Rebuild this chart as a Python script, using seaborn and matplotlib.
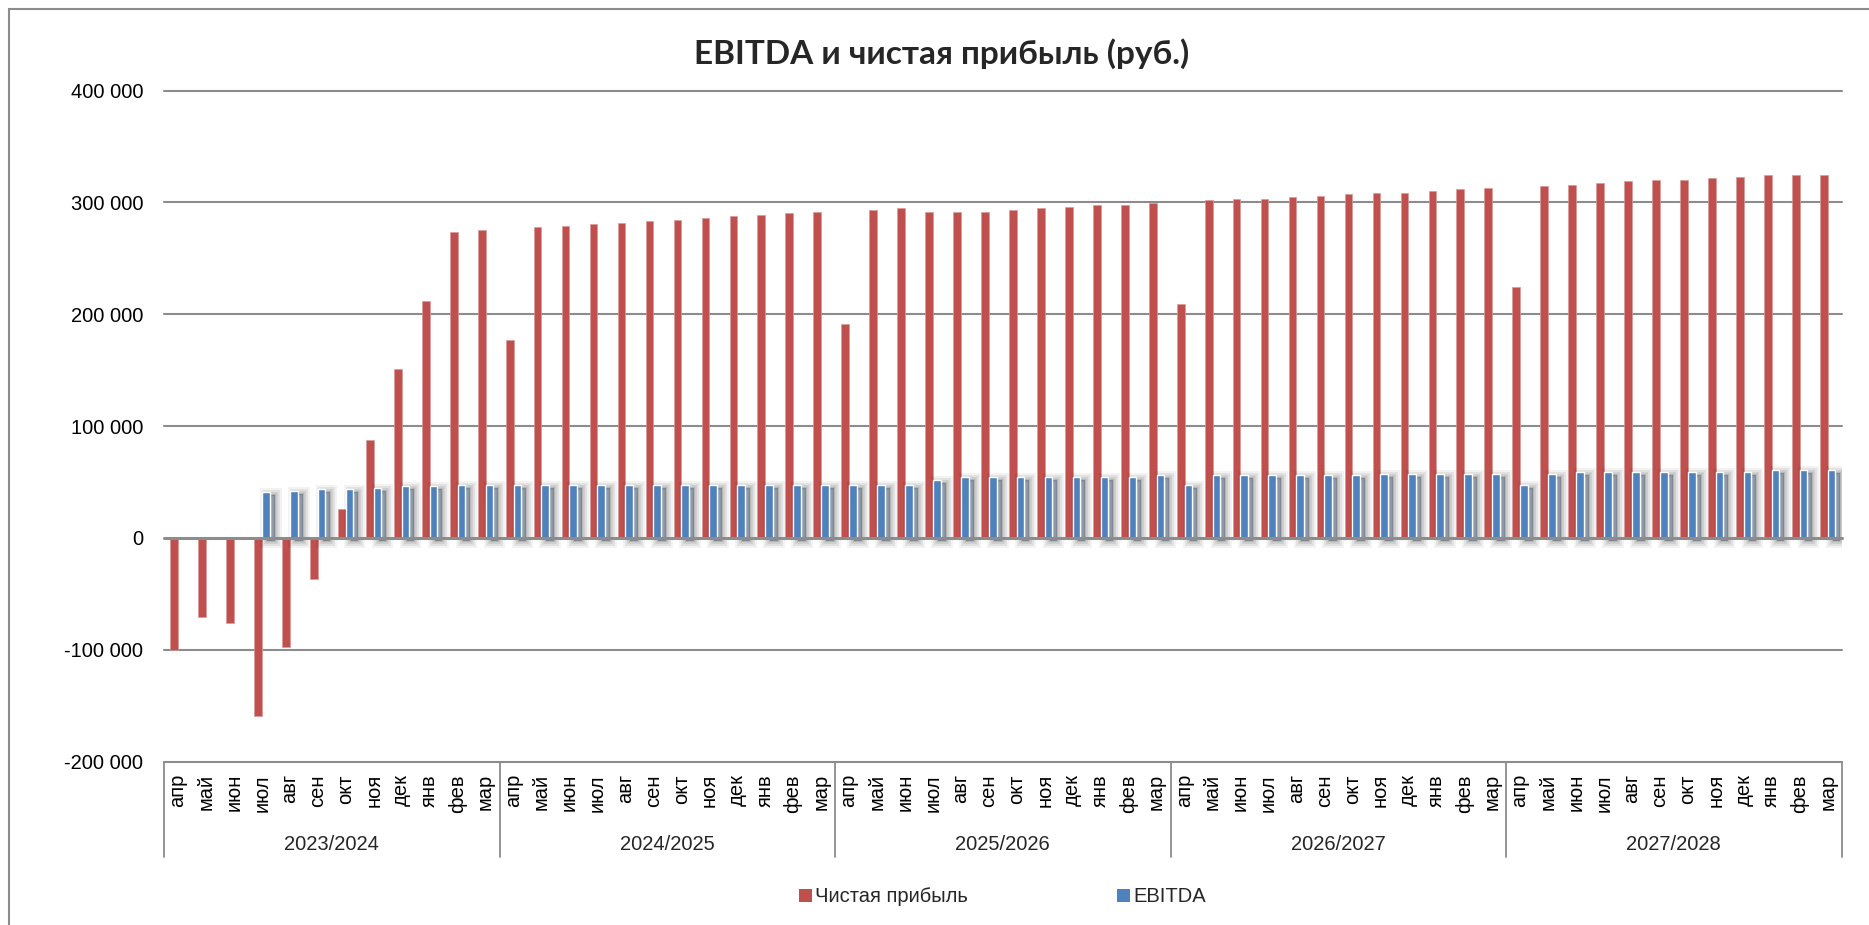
import numpy as np
import pandas as pd
import seaborn as sns
import matplotlib
matplotlib.use("Agg")
import matplotlib.pyplot as plt
import matplotlib.patheffects as pe
from matplotlib.patches import Patch, Rectangle
from matplotlib.ticker import FuncFormatter

# ---- data -------------------------------------------------------------
years = ["2023/2024", "2024/2025", "2025/2026", "2026/2027", "2027/2028"]
months = ["апр", "май", "июн", "июл", "авг", "сен",
          "окт", "ноя", "дек", "янв", "фев", "мар"]

net_profit = [
    -100500, -70700, -76000, -159000, -97600, -36500,
    26300, 88000, 150700, 212100, 273800, 275300,
    176600, 277700, 279200, 280600, 282000, 283400,
    284700, 286100, 287600, 289100, 290300, 291800,
    191700, 293300, 294800, 291800, 291800, 291800,
    293300, 294800, 296300, 297800, 297800, 299300,
    208900, 301900, 303400, 303400, 304900, 306100,
    307600, 308800, 308800, 310300, 311800, 313300,
    224700, 314800, 315900, 317400, 318900, 320400,
    320400, 321900, 323100, 324600, 324600, 324600,
]

ebitda = [
    0, 0, 0, 40700, 42200, 43400,
    43400, 44900, 46400, 46400, 47600, 47600,
    47600, 47600, 47600, 47600, 47600, 47600,
    47600, 47600, 47600, 47600, 47600, 47600,
    47600, 47600, 47600, 51900, 54500, 54500,
    54500, 54500, 54500, 54500, 54500, 56000,
    47600, 56000, 56000, 56000, 56000, 56000,
    56000, 57500, 57500, 57500, 57500, 57500,
    47600, 57500, 59000, 59000, 59000, 59000,
    59000, 59000, 59000, 60500, 60500, 60500,
]

series_names = ["Чистая прибыль", "EBITDA"]
series_colors = ["#C0504D", "#4F81BD"]
y_ticks = [-200000, -100000, 0, 100000, 200000, 300000, 400000]

# ---- long table for seaborn ------------------------------------------
keys = [f"{y} {m}" for y in years for m in months]
month_labels = [m for _ in years for m in months]
df = pd.DataFrame({
    "key": keys * 2,
    "value": net_profit + ebitda,
    "series": [series_names[0]] * len(keys) + [series_names[1]] * len(keys),
})

# ---- style ------------------------------------------------------------
sns.set_style("white")
plt.rcParams["font.family"] = ["Liberation Sans", "DejaVu Sans"]
FS = 14.5
GRID = "#8c8c8c"

fig = plt.figure(figsize=(18.69, 9.25), dpi=100)
ax = fig.add_axes([0.08775, 0.17665, 0.8976, 0.7254])

sns.barplot(
    data=df, x="key", y="value", hue="series",
    order=keys, hue_order=series_names, palette=series_colors,
    width=0.55, saturation=1, legend=False, ax=ax, zorder=2,
)

# soft drop shadow behind the EBITDA bars
off = (3.6, -2.2)
shadow = [
    pe.Stroke(offset=off, linewidth=10, foreground="#000000", alpha=0.05),
    pe.Stroke(offset=off, linewidth=7, foreground="#000000", alpha=0.07),
    pe.Stroke(offset=off, linewidth=4, foreground="#000000", alpha=0.09),
    pe.Stroke(offset=off, linewidth=1.5, foreground="#000000", alpha=0.1),
    pe.SimplePatchShadow(offset=off, shadow_rgbFace="#000000", alpha=0.14),
    pe.Normal(),
]
for bar in ax.containers[1]:
    if bar.get_height() > 0:
        bar.set_path_effects(shadow)

# light rim on the profit bars
for bar in ax.containers[0]:
    bar.set_edgecolor("#d99a98")
    bar.set_linewidth(0.5)

ax.set_xlim(-0.5, len(keys) - 0.5)
ax.set_ylim(-200000, 400000)
ax.set_yticks(y_ticks)
ax.yaxis.set_major_formatter(
    FuncFormatter(lambda v, _: f"{int(v):,}".replace(",", " ")))
ax.set_xticks(range(len(keys)))
ax.set_xticklabels(month_labels, rotation=90, va="top", ha="center")
ax.tick_params(axis="x", length=0, pad=9, labelsize=FS, colors="black")
ax.tick_params(axis="y", length=0, pad=15, labelsize=FS, colors="black")
ax.set_xlabel("")
ax.set_ylabel("")
for s in ax.spines.values():
    s.set_visible(False)

# horizontal gridlines and emphasised zero line
for v in y_ticks:
    ax.axhline(v, color=GRID, lw=1.5 if v != 0 else 2.2,
               zorder=1 if v != 0 else 3, clip_on=False)

# two-level category frame: year separators and year captions
n = len(months)
for g in range(len(years) + 1):
    ax.plot([g * n - 0.5] * 2, [0, -0.1416], color=GRID, lw=1.3,
            transform=ax.get_xaxis_transform(), clip_on=False)
for g, yr in enumerate(years):
    ax.text(g * n + (n - 1) / 2, -0.124, yr, ha="center", va="center",
            fontsize=FS, transform=ax.get_xaxis_transform())

# title
fig.text(942 / 1869, 1 - 54 / 925, "EBITDA и чистая прибыль (руб.)",
         ha="center", va="center", fontsize=24, fontweight="bold",
         family=["Lato", "DejaVu Sans"])

# legend
handles = [Patch(facecolor=c, edgecolor="none") for c in series_colors]
fig.legend(handles, series_names, loc="center",
           bbox_to_anchor=(0.5364, 0.0303), ncol=2, frameon=False,
           fontsize=FS, handlelength=0.65, handleheight=0.65,
           handletextpad=0.15, columnspacing=7.4)

# outer chart frame
fig.patches.append(Rectangle((8.5 / 1869, -0.1), 1.2, 1.1 - 8.7 / 925,
                             transform=fig.transFigure, fill=False,
                             edgecolor=GRID, lw=1.5))

fig.savefig("out.png", dpi=100, facecolor="white")
